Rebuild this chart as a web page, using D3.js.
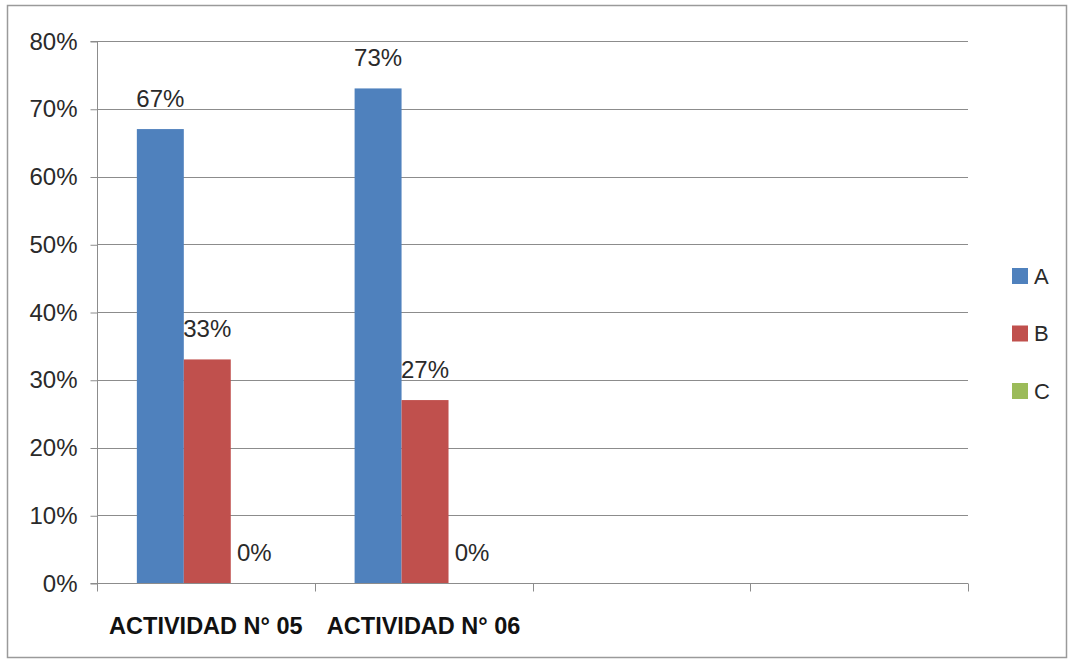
<!DOCTYPE html>
<html><head><meta charset="utf-8">
<script src="https://cdn.jsdelivr.net/npm/d3@7"></script>
<style>html,body{margin:0;padding:0;background:#fff;}</style>
</head><body>
<svg id="chart" width="1070" height="659"></svg>
<script>
const categories = ["ACTIVIDAD N° 05", "ACTIVIDAD N° 06", "", " "];
const series = ["A", "B", "C"];
const valuesA = [0.67, 0.73, null, null];
const valuesB = [0.33, 0.27, null, null];
const valuesC = [0, 0, null, null];
const yTicks = [0, 0.1, 0.2, 0.3, 0.4, 0.5, 0.6, 0.7, 0.8];
const colors = ["#4F81BD", "#C0504D", "#9BBB59"];

(function () {
const allValues = [valuesA, valuesB, valuesC];
const svg = d3.select("#chart");
const font = "'Liberation Sans', Arial, sans-serif";

svg.append("rect").attr("x", 7.5).attr("y", 5.5).attr("width", 1059).attr("height", 652)
  .attr("fill", "#fff").attr("stroke", "#9a9a9a").attr("stroke-width", 1.5);

const pl = 97, pr = 968, pt = 41, pb = 583;
const x0 = d3.scaleBand().domain(categories).range([pl, pr]).padding(0);
const bw = x0.bandwidth();
const x1 = d3.scaleBand().domain(series).range([bw * 0.183, bw * 0.83]).padding(0);
const y = d3.scaleLinear().domain([0, 0.8]).range([pb, pt]);

svg.append("g").selectAll("line").data(yTicks.filter(d => d > 0)).join("line")
  .attr("x1", pl).attr("x2", pr)
  .attr("y1", d => Math.round(y(d)) + 0.5).attr("y2", d => Math.round(y(d)) + 0.5)
  .attr("stroke", "#8c8c8c").attr("stroke-width", 1);

const yAxis = d3.axisLeft(y).tickValues(yTicks).tickFormat(d3.format(".0%")).tickSize(7).tickPadding(13);
const gy = svg.append("g").attr("transform", `translate(${pl + 0.5},0.5)`).call(yAxis);
gy.select(".domain").attr("stroke", "#8c8c8c").attr("d", `M-7,${pt}H0V${pb}H-7`);
gy.selectAll(".tick line").attr("stroke", "#8c8c8c");
gy.selectAll(".tick text").attr("font-family", font).attr("font-size", 24).attr("fill", "#2a2a2a");

const gx = svg.append("g").attr("transform", `translate(0,${pb + 0.5})`);
gx.append("line").attr("x1", pl).attr("x2", pr).attr("y1", 0).attr("y2", 0).attr("stroke", "#8c8c8c");
const bounds = categories.map(c => x0(c)).concat([pr]);
gx.selectAll("line.tk").data(bounds).join("line").attr("class", "tk")
  .attr("x1", d => Math.round(d) + 0.5).attr("x2", d => Math.round(d) + 0.5).attr("y1", 0).attr("y2", 8)
  .attr("stroke", "#8c8c8c");
gx.selectAll("text").data(categories).join("text")
  .attr("x", d => x0(d) + bw / 2).attr("y", 50)
  .attr("text-anchor", "middle").attr("font-family", font).attr("font-weight", "bold")
  .attr("font-size", 23.5).attr("fill", "#111").text(d => d.trim());

series.forEach((s, si) => {
  const g = svg.append("g");
  const data = categories.map((c, i) => ({c, v: allValues[si][i]})).filter(d => d.v !== null);
  g.selectAll("rect").data(data).join("rect")
    .attr("x", d => x0(d.c) + x1(s)).attr("width", x1.bandwidth())
    .attr("y", d => y(d.v)).attr("height", d => y(0) - y(d.v))
    .attr("fill", colors[si]);
  g.selectAll("text").data(data).join("text")
    .attr("x", d => x0(d.c) + x1(s) + x1.bandwidth() / 2)
    .attr("y", d => y(d.v) - 22)
    .attr("text-anchor", "middle").attr("font-family", font).attr("font-size", 24).attr("fill", "#2a2a2a")
    .text(d => d3.format(".0%")(d.v));
});

const lg = svg.append("g");
series.forEach((s, i) => {
  const cy = 276 + i * 57.5;
  lg.append("rect").attr("x", 1012).attr("y", cy - 8).attr("width", 16).attr("height", 16).attr("fill", colors[i]);
  lg.append("text").attr("x", 1034).attr("y", cy).attr("dy", "0.36em")
    .attr("font-family", font).attr("font-size", 22).attr("fill", "#2a2a2a").text(s);
});
})();
</script>
</body></html>
